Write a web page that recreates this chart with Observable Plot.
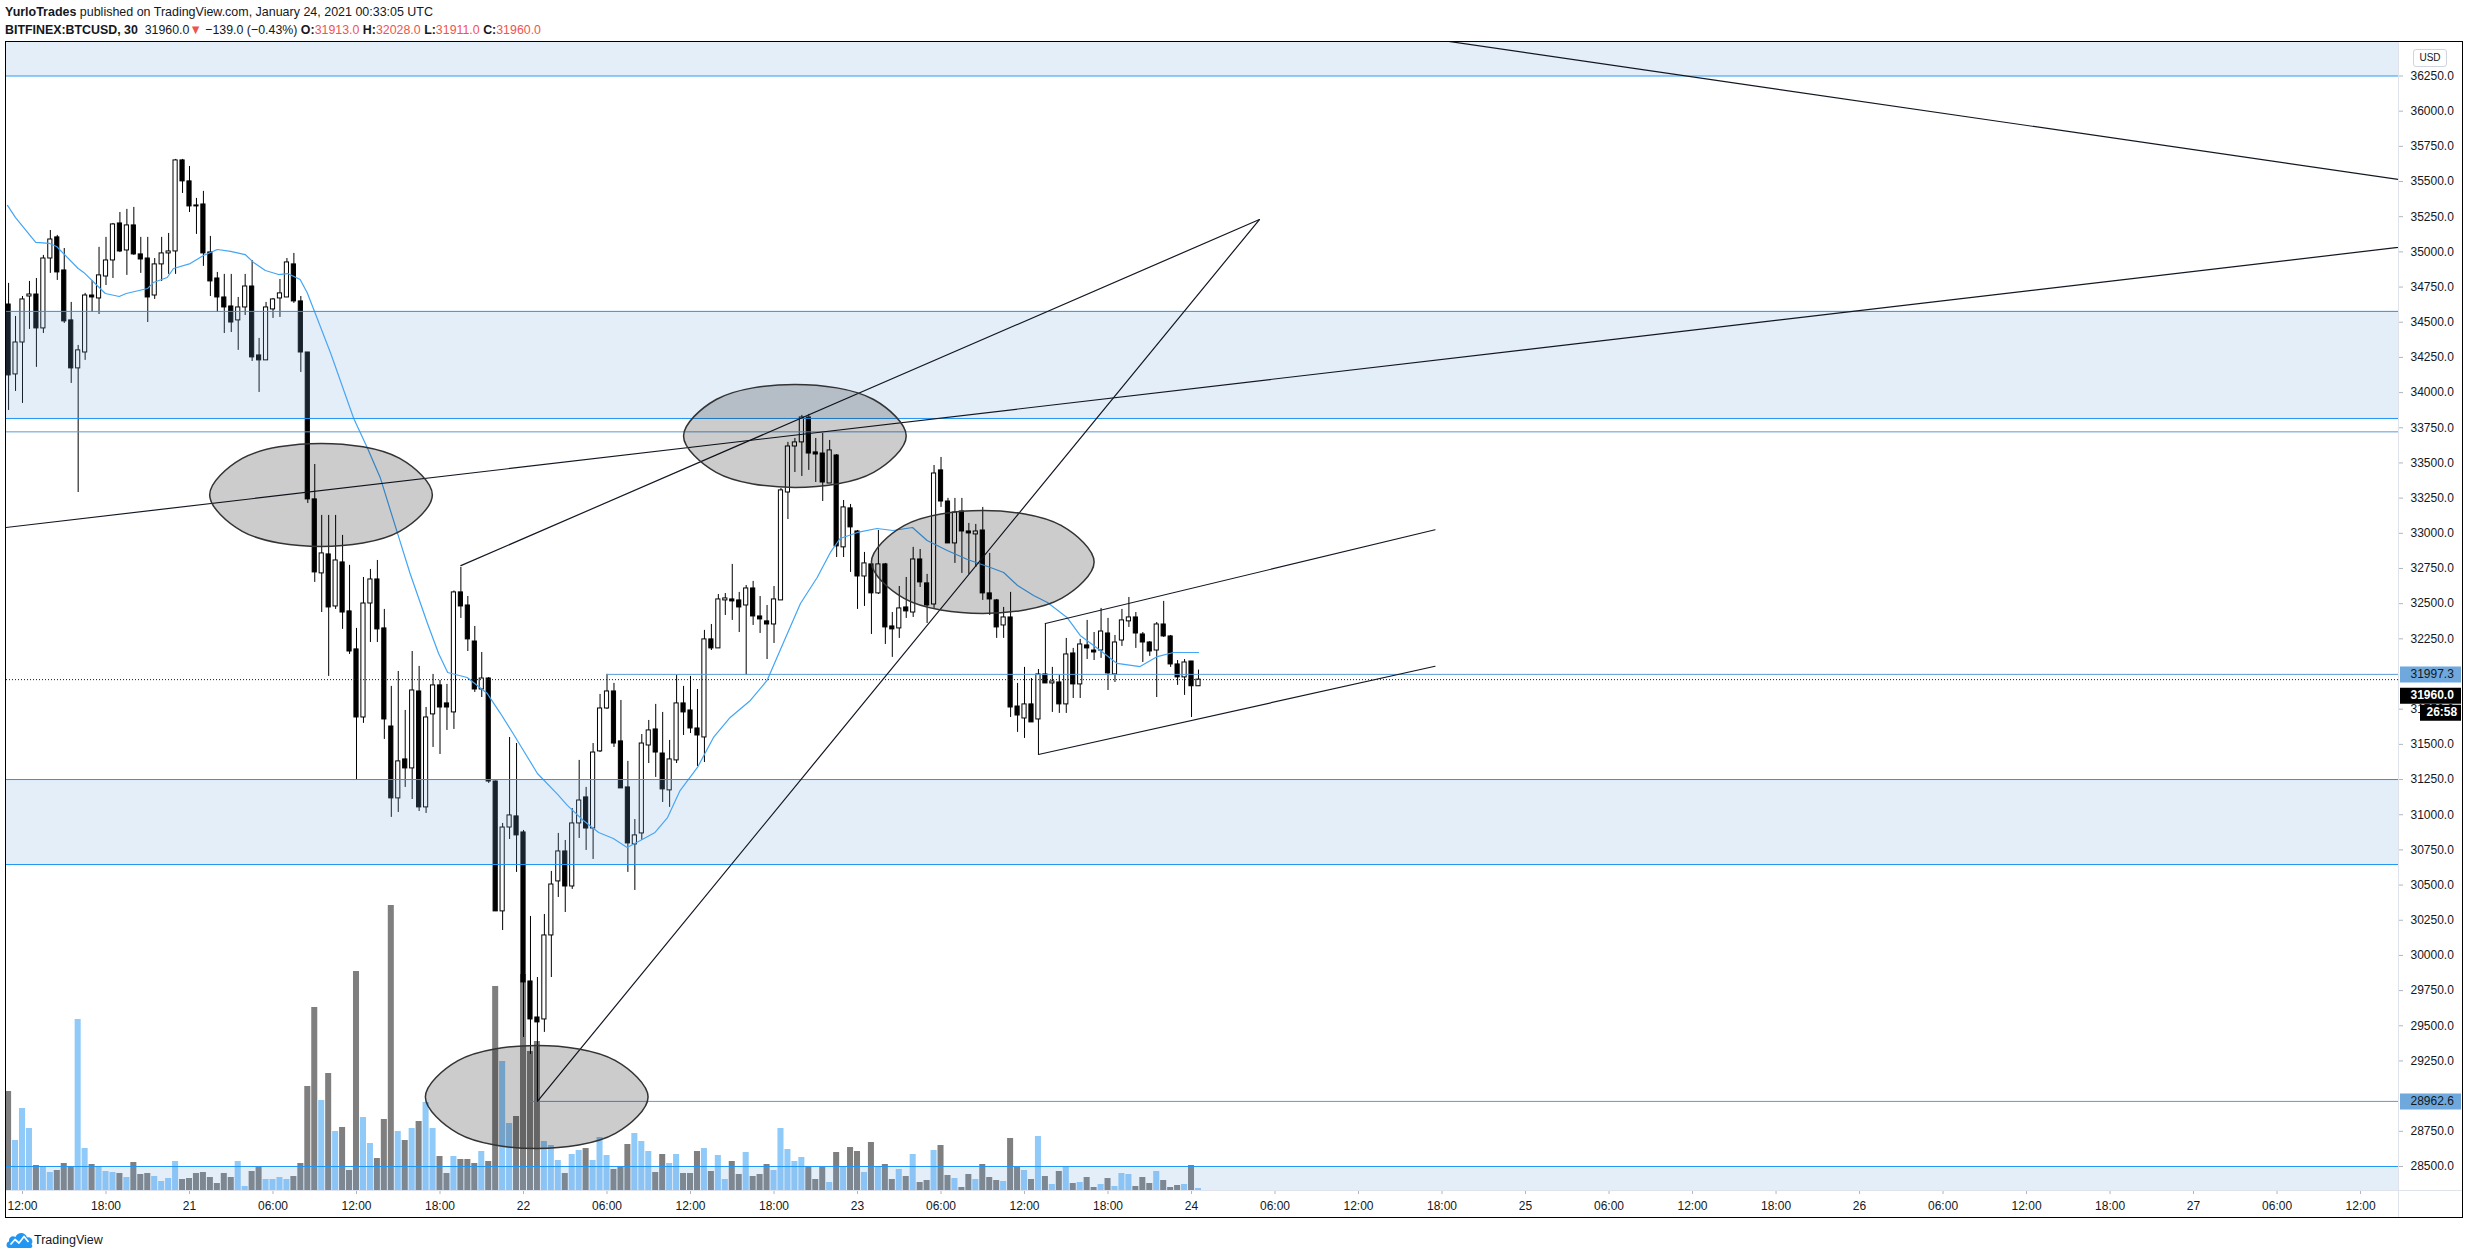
<!DOCTYPE html>
<html><head><meta charset="utf-8">
<script src="https://cdn.jsdelivr.net/npm/d3@7"></script>
<script src="https://cdn.jsdelivr.net/npm/@observablehq/plot@0.6"></script>
<style>
html,body{margin:0;padding:0;background:#fff;}
body{width:2468px;height:1258px;position:relative;overflow:hidden;font-family:"Liberation Sans",Arial,sans-serif;color:#131722;}
.hdr{position:absolute;left:5px;white-space:nowrap;font-size:13px;line-height:16px;transform-origin:0 50%;}
#hdr1{top:4px}
#hdr2{top:22px}
.red{color:#ef5350}
#chart{position:absolute;left:6px;top:42px;width:2456px;height:1175px;outline:1px solid #000;}
#chart svg{position:absolute;left:0;top:0;}
#vsep{position:absolute;left:2392px;top:0;width:1px;height:1175px;background:#e0e3eb;}
#hsep{position:absolute;left:0;top:1148px;width:2456px;height:1px;background:#e0e3eb;}
#usd{position:absolute;left:2407px;top:7px;width:32px;height:16px;border:1px solid #d1d4dc;border-radius:3px;font-size:10px;line-height:16px;text-align:center;background:#fff;}
#logo{position:absolute;left:6px;top:1231px;}
#logotext{position:absolute;left:34px;top:1232px;font-size:12.5px;line-height:16px;}
g[aria-label="y-axis tick"], g[aria-label="x-axis tick"]{stroke:#b2b5be;}
</style></head>
<body>
<div id="hdr1" class="hdr"><b>YurloTrades</b> published on TradingView.com, January 24, 2021 00:33:05 UTC</div>
<div id="hdr2" class="hdr"><b>BITFINEX:BTCUSD, 30</b>&nbsp; 31960.0<span class="red">▼</span> −139.0 (−0.43%) <b>O:</b><span class="red">31913.0</span> <b>H:</b><span class="red">32028.0</span> <b>L:</b><span class="red">31911.0</span> <b>C:</b><span class="red">31960.0</span></div>
<div id="chart"></div>
<svg id="logo" width="27" height="18" viewBox="0 0 27 18"><path d="M3 17 C0 17 -0.5 11.5 3 10.5 C2.5 6 6.5 4 9.5 6 C11.5 0.5 19.5 0.5 21 6.5 C25 5.5 28 10 25.5 13 C27.5 16 25.5 17 23.5 17 Z" fill="#2196f3"/><polyline points="4.5,13.5 9,8.5 13,12 18,5.5 22.5,11" fill="none" stroke="#fff" stroke-width="1.7" stroke-linejoin="round"/></svg>
<div id="logotext">TradingView</div>
<script>
// ---------------- DATA ----------------
// 30-minute BITFINEX:BTCUSD candles, first bar = 2021-01-20 11:00 UTC (bar index -2 relative to 12:00)
const firstBarIndex = -2;
const open = [
34626,34129,34356,34683,34697,34456,34953,35103,34868,34513,
34172,34285,34690,34669,34825,34939,35202,35010,35188,34982,
34953,34690,34911,34989,35003,35650,35501,35330,35337,34996,
34811,34676,34612,34513,34605,34754,34264,34229,34591,34669,
34676,34911,34648,34285,33241,32715,32850,32480,32793,32445,
32175,31691,32501,32672,32324,31627,31116,31393,31329,31876,
31052,31713,31919,31791,31727,32580,32487,32231,31890,31968,
31236,30313,30909,30988,30874,29815,29559,29545,30142,30526,
30739,30490,30938,31123,30902,31450,31755,31876,31521,31194,
30789,30867,31492,31606,31435,31173,31386,31791,31741,31613,
31549,32246,32182,32523,32530,32523,32487,32608,32409,32374,
32352,32523,33290,33617,33646,33823,33575,33567,33354,33553,
32900,33177,33013,32693,32779,32573,32779,32338,32324,32473,
32437,32814,32644,32494,33447,33226,32928,33155,33013,32992,
33020,32573,32523,32345,32402,31769,31684,31784,31677,31997,
31933,31940,31784,32146,31926,32203,32167,32167,32288,31997,
32238,32374,32402,32281,32224,32167,32352,32267,32068,31976,
32089,31913];
const high = [
34776,34541,34683,34790,34811,34975,35152,35117,35024,34641,
34335,34705,34797,35032,35103,35202,35280,35302,35316,35103,
35103,34953,35103,35131,35657,35657,35607,35380,35430,35110,
34854,34840,34840,34676,34840,34939,34385,34641,34669,34804,
34953,34989,34683,34285,33489,33127,33127,33127,32985,32772,
32324,32686,32743,32807,32459,31912,32018,31741,32160,32054,
31762,31997,31954,31926,32590,32757,32551,32338,32153,31975,
31240,30938,31549,31506,30888,30277,29843,30291,30597,30867,
30817,31044,31386,31194,31506,31855,31997.3,31933,31812,31379,
30966,31570,31670,31784,31727,31528,31990,31912,31983,31890,
32310,32352,32565,32572,32779,32580,32629,32658,32551,32487,
32622,33319,33646,33674,33838,33845,33674,33710,33660,33560,
33233,33205,33020,32864,32786,33020,32786,32437,32622,32686,
32900,32885,32708,33482,33539,33248,33248,33248,33070,33063,
33184,32857,32530,32473,32580,31933,32047,31968,32032,32359,
32047,31990,32253,32182,32246,32381,32295,32466,32395,32274,
32459,32544,32437,32295,32231,32366,32516,32274,32096,32103,
32089,32028];
const low = [
33873,34008,33923,34449,34179,34420,34847,34797,34491,34065,
33290,34229,34570,34555,34761,34811,34995,34833,34975,34847,
34498,34662,34790,34840,34840,35415,35280,35124,34897,34683,
34570,34420,34427,34300,34548,34221,34001,34229,34527,34534,
34676,34634,34143,33212,32651,32437,31983,32459,32317,32139,
31244,31649,32224,32224,31535,30981,31016,31194,31108,31023,
31009,31478,31428,31599,31606,32395,32160,31869,31833,31222,
30313,30177,30824,30590,29417,29296,28962.6,29453,29843,30412,
30305,30469,30831,30746,30682,31442,31748,31478,31187,30590,
30462,30817,31364,31265,31087,31052,31364,31563,31577,31343,
31371,32167,32182,32416,32381,32295,31990,32345,32288,32103,
32217,32523,33098,33432,33404,33447,33361,33226,33354,32828,
32828,32722,32459,32480,32281,32565,32210,32118,32253,32395,
32402,32615,32359,32466,33184,32928,32786,32715,32708,32757,
32523,32416,32253,32253,31691,31585,31542,31656,31428,31933,
31727,31720,31720,31826,31826,32103,32096,32111,31883,31940,
32196,32331,32182,32082,32125,31833,32260,32047,31919,31848,
31691,31911];
const close = [
34122,34356,34662,34697,34456,34953,35088,34854,34506,34172,
34300,34690,34676,34833,34939,35195,35003,35188,34982,34946,
34676,34911,34989,35003,35650,35501,35323,35323,34989,34790,
34676,34605,34498,34605,34754,34250,34229,34605,34662,34705,
34925,34648,34285,33241,32722,32857,32473,32807,32437,32160,
31691,32501,32672,32317,31677,31116,31379,31329,31883,31052,
31691,31919,31762,31762,32580,32480,32246,31890,31968,31236,
30313,30909,30995,30853,29808,29545,29524,30142,30504,30739,
30490,30938,31101,30902,31442,31755,31876,31506,31187,30796,
30853,31506,31599,31442,31180,31393,31791,31727,31613,31563,
32246,32182,32530,32537,32516,32473,32608,32409,32388,32352,
32530,33305,33617,33646,33823,33567,33560,33361,33589,32907,
33184,33042,32693,32786,32573,32779,32331,32317,32466,32445,
32814,32651,32487,33425,33226,32928,33148,33013,32999,33013,
32573,32530,32331,32402,31762,31705,31784,31656,31997,31933,
31947,31784,32139,31926,32210,32182,32153,32302,32004,32224,
32381,32402,32288,32224,32160,32352,32267,32068,31976,32082,
31913,31960];
// volume (relative units)
const volume = [
99,50,82,62,25,23,18,20,27,24,
171,42,26,23,19,18,17,13,28,16,
17,14,9,12,29,11,12,17,18,13,
7,17,13,29,4,19,23,11,11,13,
11,14,27,104,183,90,117,59,63,20,
219,73,47,32,71,285,59,50,62,69,
88,62,34,17,34,31,31,27,39,29,
204,129,67,74,216,139,149,49,45,30,
17,36,40,42,30,53,35,21,23,46,
57,49,39,18,36,27,36,17,17,39,
42,19,35,11,29,16,38,14,16,26,
20,62,41,29,33,24,11,23,8,38,
23,43,39,18,48,23,26,11,21,14,
36,8,10,40,45,15,12,3,16,11,
26,13,10,9,52,23,20,11,54,14,
6,19,23,7,8,13,3,6,12,4,
17,16,4,13,7,19,10,3,5,6,
25,2];
// moving average line (bar index relative to Jan 20 12:00, value)
const maBar = [-2.16,-1,1.9,3.9,4.9,8,8.8,11.9,13.9,14.9,18,18.8,20.8,21.7,24.1,26,28,29.9,32,33.2,34.9,36.8,38.1,39.9,40.9,41.8,44.3,47.6,49.6,51.4,53.9,55.7,58.2,59.8,61.1,63.9,66.8,68.7,70.5,72.6,74,76.9,78.3,80.6,82.8,84.9,86.9,88.8,90.9,92.7,94.5,97,99.3,101.7,104.6,107,109.3,111.8,114.2,116.1,117.5,120,122.8,125.1,127.9,130,132.9,135.8,139.1,141,143,145.3,147.3,150.1,152,154.9,157.3,160.6,163.1,165.4,169];
const maValue = [35330,35244,35067,35060,35038,34882,34854,34704,34683,34704,34740,34782,34818,34882,34917,34974,35017,35003,34981,34925,34868,34839,34846,34804,34711,34598,34278,33816,33603,33397,32999,32714,32359,32146,32011,31975,31861,31719,31577,31407,31293,31144,31066,30959,30874,30831,30767,30817,30874,30980,31172,31336,31549,31691,31812,31954,32217,32501,32686,32864,32963,33006,33034,33020,33041,32949,32878,32814,32757,32721,32629,32558,32508,32402,32274,32167,32075,32053,32124,32153,32153];
// horizontal zones (price low, price high)
const zoneLow  = [36250, 33816, 30646, 28100];
const zoneHigh = [36700, 34577, 31250, 28500];
const zoneEdges = [36250, 34577, 33816, 31250, 30646, 28500];
const hLines = [33721];
// horizontal rays: price, start (hours after 2021-01-20 00:00 UTC)
const rayPrice = [31997.3, 28962.6];
const rayStartHour = [54, 48.5];
// trend lines: hours after 2021-01-20 00:00 UTC, price
const tlStartHour  = [100, 0, 43.5, 49, 85.5, 85];
const tlStartPrice = [36704, 32916, 32770, 28962.6, 32359, 31428];
const tlEndHour    = [190, 190, 100.88, 100.88, 113.5, 113.5];
const tlEndPrice   = [35410, 35116, 35230, 35230, 33025, 32055];
// ellipses: center hour, center price, half width (hours), half height (USD)
const ellHour  = [33.45, 67.5, 81.0, 48.95];
const ellPrice = [33273, 33692, 32796, 28994];
const ellHalfW = [8.0, 8.0, 8.0, 8.0];
const ellHalfH = [366, 366, 366, 366];
// axes (29000 and 32000 sit under the price badges and are not shown)
const yTicks = [28500,28750,29250,29500,29750,30000,30250,30500,30750,31000,31250,31500,31750,32250,32500,32750,33000,33250,33500,33750,34000,34250,34500,34750,35000,35250,35500,35750,36000,36250];
const xTickHours = [12,18,24,30,36,42,48,54,60,66,72,78,84,90,96,102,108,114,120,126,132,138,144,150,156,162,168,174,180];
const xTickLabels = ["12:00","18:00","21","06:00","12:00","18:00","22","06:00","12:00","18:00","23","06:00","12:00","18:00","24","06:00","12:00","18:00","25","06:00","12:00","18:00","26","06:00","12:00","18:00","27","06:00","12:00"];
const lastPrice = 31960;
const countdown = "26:58";
const xDomainHours = [10.8503, 182.727];
const yDomain = [28329.4, 36488];

// ---------------- TABLES ----------------
const T0 = Date.UTC(2021, 0, 20, 0, 0);
const HOUR = 3600e3, MIN = 60e3;
const at = h => new Date(T0 + h * HOUR);
const barTime = i => new Date(T0 + 12 * HOUR + i * 30 * MIN);
const xDomain = xDomainHours.map(at);

const candles = open.map((o, k) => {
  const t = barTime(firstBarIndex + k);
  return {t, t1: new Date(+t - 9 * MIN), t2: new Date(+t + 9 * MIN),
          v1: new Date(+t - 13 * MIN), v2: new Date(+t + 13 * MIN),
          open: o, high: high[k], low: low[k], close: close[k], volume: volume[k], up: close[k] >= o};
});
const upC = candles.filter(d => d.up), dnC = candles.filter(d => !d.up);
const ma = maBar.map((b, k) => ({t: barTime(b), v: maValue[k]}));
const zones = zoneLow.map((lo, k) => ({lo, hi: zoneHigh[k], x1: xDomain[0], x2: xDomain[1]}));
const rays = rayPrice.map((p, k) => ({p, x1: at(rayStartHour[k]), x2: xDomain[1]}));
const trend = [];
tlStartHour.forEach((h, k) => {
  trend.push({id: k, t: at(h), p: tlStartPrice[k]});
  trend.push({id: k, t: at(tlEndHour[k]), p: tlEndPrice[k]});
});
const ell = [];
ellHour.forEach((h, k) => {
  for (let a = 0; a < 8; a++) {
    const ang = a * Math.PI / 4;
    ell.push({id: k, t: at(h + ellHalfW[k] * Math.cos(ang)), p: ellPrice[k] + ellHalfH[k] * Math.sin(ang)});
  }
});
const tickLabel = new Map(xTickHours.map((h, i) => [+at(h), xTickLabels[i]]));

const W = 2456, Hgt = 1175;
const common = {width: W, height: Hgt, marginLeft: 0, marginRight: 64, marginTop: 0, marginBottom: 27};
const fontStyle = {background: "transparent", fontFamily: "Liberation Sans, Arial, sans-serif", fontSize: "12px", color: "#131722", overflow: "visible"};

// volume pane (behind)
const back = Plot.plot({
  ...common,
  style: fontStyle,
  x: {type: "utc", domain: xDomain, axis: null},
  y: {domain: [0, 1148], axis: null},
  marks: [
    Plot.rect(upC, {x1: "v1", x2: "v2", y1: 0, y2: "volume", fill: "#2196f3", fillOpacity: 0.5}),
    Plot.rect(dnC, {x1: "v1", x2: "v2", y1: 0, y2: "volume", fill: "#000", fillOpacity: 0.5})
  ]
});

// price pane (front)
const badge = (price, label, bg, fg, dy, insetLeft, bold, dx) => [
  Plot.ruleY([price], {stroke: bg, strokeWidth: 16, insetLeft, insetRight: -63, dy}),
  Plot.text([price], {y: d => d, text: () => label, frameAnchor: "right", dx, dy, textAnchor: "start", fill: fg, fontWeight: bold ? "bold" : "normal", fontSize: 12})
];
const front = Plot.plot({
  ...common,
  style: fontStyle,
  x: {type: "utc", domain: xDomain},
  y: {domain: yDomain},
  marks: [
    Plot.ruleX(candles, {x: "t", y1: "low", y2: "high", stroke: "#000", strokeWidth: 1, clip: true}),
    Plot.rect(upC, {x1: "t1", x2: "t2", y1: "open", y2: "close", fill: "#fff", stroke: "#000", strokeWidth: 1, clip: true}),
    Plot.rect(dnC, {x1: "t1", x2: "t2", y1: "open", y2: "close", fill: "#000", stroke: "#000", strokeWidth: 1, clip: true}),
    Plot.line(ma, {x: "t", y: "v", stroke: "#42a5f5", strokeWidth: 1.2, clip: true}),
    Plot.rect(zones, {x1: "x1", x2: "x2", y1: "lo", y2: "hi", fill: "rgb(115,170,225)", fillOpacity: 0.2, clip: true}),
    Plot.ruleY(zoneEdges, {stroke: "#2196f3", strokeWidth: 1, clip: true}),
    Plot.ruleY(hLines, {stroke: "#5b9bd5", strokeWidth: 1, clip: true}),
    Plot.ruleY(rays, {y: "p", x1: "x1", x2: "x2", stroke: "#5b9bd5", strokeWidth: 1, clip: true}),
    Plot.ruleY([lastPrice], {stroke: "#131722", strokeWidth: 1, strokeDasharray: "1,2", clip: true}),
    Plot.line(trend, {x: "t", y: "p", z: "id", stroke: "#131722", strokeWidth: 1.2, clip: true}),
    Plot.line(ell, {x: "t", y: "p", z: "id", curve: "catmull-rom-closed", fill: "#000", fillOpacity: 0.2, stroke: "#333", strokeWidth: 1.5, clip: true}),
    Plot.axisY({anchor: "right", ticks: yTicks, tickFormat: d => d.toFixed(1), tickSize: 4, tickPadding: 8, label: null, fontSize: 12}),
    Plot.axisX({anchor: "bottom", ticks: xTickHours.map(at), tickFormat: d => tickLabel.get(+d), tickSize: 4, tickPadding: 7, label: null, fontSize: 12}),
    ...badge(31997.3, "31997.3", "#6fa8dc", "#131722", 0, 2394, false, 12),
    ...badge(28962.6, "28962.6", "#6fa8dc", "#131722", 0, 2394, false, 12),
    ...badge(lastPrice, "31960.0", "#000", "#fff", 16, 2394, true, 12),
    ...badge(lastPrice, countdown, "#000", "#fff", 33, 2414, true, 28)
  ]
});

const chart = document.getElementById("chart");
chart.appendChild(back);
chart.appendChild(front);
const vs = document.createElement("div"); vs.id = "vsep"; chart.appendChild(vs);
const hs = document.createElement("div"); hs.id = "hsep"; chart.appendChild(hs);
const usd = document.createElement("div"); usd.id = "usd"; usd.textContent = "USD"; chart.appendChild(usd);

function fit(id, w) {
  const el = document.getElementById(id);
  const r = el.getBoundingClientRect().width;
  if (r > 0) el.style.transform = `scaleX(${w / r})`;
}
fit("hdr1", 428);
fit("hdr2", 536);
</script>
</body></html>
